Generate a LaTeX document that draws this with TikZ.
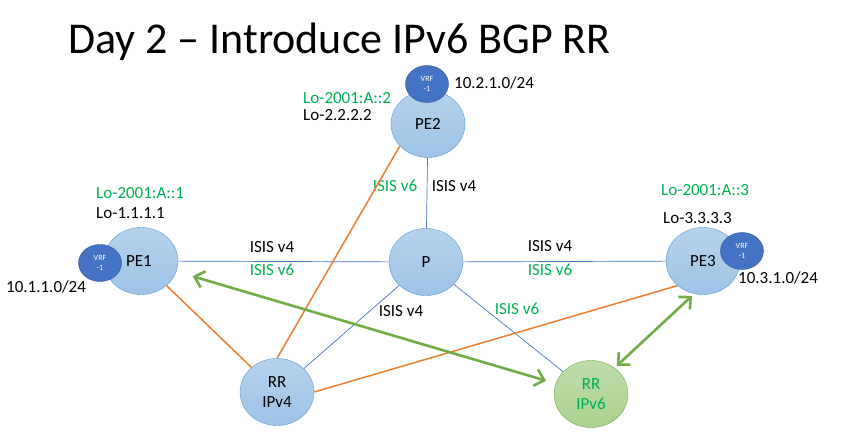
\documentclass[tikz,border=0pt]{standalone}
\usepackage{fontspec}
\setmainfont{Carlito}
\usetikzlibrary{shapes.geometric, arrows.meta}
\definecolor{nodeblue}{HTML}{9DC3E6}
\definecolor{nodeline}{HTML}{5B9BD5}
\definecolor{vrfblue}{HTML}{4472C4}
\definecolor{vrfline}{HTML}{2F528F}
\definecolor{rrgreen}{HTML}{A9D18E}
\definecolor{rrline}{HTML}{70AD47}
\definecolor{txtgreen}{HTML}{00B050}
\definecolor{ibgporange}{HTML}{ED7D31}
\tikzset{pe/.style  = {ellipse, minimum width=74pt, minimum height=67pt, inner sep=0pt, align=center,
                       draw=nodeline, top color=nodeblue!75!white, bottom color=nodeblue, font=\fontsize{17}{20}\selectfont},
         rr/.style  = {pe, draw=rrline, top color=rrgreen!75!white, bottom color=rrgreen, text=txtgreen},
         vrf/.style = {ellipse, minimum width=43pt, minimum height=37pt, inner sep=0pt, align=center,
                       draw=vrfline, fill=vrfblue, text=white, font=\fontsize{8}{10}\selectfont},
         lb/.style  = {inner sep=0pt, font=\fontsize{17}{20}\selectfont},
         gn/.style  = {lb, text=txtgreen},
         hd/.style  = {inner sep=0pt, font=\fontsize{44}{50}\selectfont},
         isis/.style = {draw=vrfblue, line width=0.7pt},
         ib/.style   = {draw=ibgporange, line width=1.5pt},
         sess/.style = {draw=rrline, line width=2.6pt}}
\begin{document}
\begin{tikzpicture}[x=1pt, y=-1pt, >={Straight Barb[length=9pt, width=17pt]}]
    \useasboundingbox (0,0) rectangle (841,439);
    \node[hd, anchor=base west] (ttl) at (68,53) {Day 2 -- Introduce IPv6 BGP RR};
    % routers
    \node[pe] (pe1) at (141,261) {\hspace*{-4pt}PE1};
    \node[pe] (pe2) at (428,124) {PE2};
    \node[pe] (pe3) at (703,261) {PE3};
    \node[pe] (p)   at (426,262) {P};
    \node[pe] (rr4) at (277,392) {RR\\IPv4};
    \node[rr] (rr6) at (591,394) {RR\\IPv6};
    \node[vrf] (vrf1) at (100,263) {VRF\\-1};
    \node[vrf] (vrf2) at (427,84)  {VRF\\-1};
    \node[vrf] (vrf3) at (742,251) {VRF\\-1};
    % loopbacks and prefixes
    \node[gn, anchor=west] (lo61) at (96,193)  {Lo-2001:A::1};
    \node[lb, anchor=west] (lo41) at (96,213)  {Lo-1.1.1.1};
    \node[gn, anchor=west] (lo62) at (303,98)  {Lo-2001:A::2};
    \node[lb, anchor=west] (lo42) at (303,115) {Lo-2.2.2.2};
    \node[gn, anchor=west] (lo63) at (661,190) {Lo-2001:A::3};
    \node[lb, anchor=west] (lo43) at (663,218) {Lo-3.3.3.3};
    \node[lb, anchor=west] (net1) at (6,287)   {10.1.1.0/24};
    \node[lb, anchor=west] (net2) at (454,83)  {10.2.1.0/24};
    \node[lb, anchor=west] (net3) at (738,278) {10.3.1.0/24};
    % igp links
    \draw[isis] (pe1) -- (p);
    \draw[isis] (p) -- (pe3);
    \draw[isis] (pe2) -- (p);
    \draw[isis] (p) -- (rr4);
    \draw[isis] (p) -- (rr6);
    \node[lb] (l1) at (272,247) {ISIS v4};
    \node[gn] (l2) at (272,270) {ISIS v6};
    \node[lb] (l3) at (550,246) {ISIS v4};
    \node[gn] (l4) at (550,270) {ISIS v6};
    \node[gn] (l5) at (395,186) {ISIS v6};
    \node[lb] (l6) at (454,186) {ISIS v4};
    \node[lb] (l7) at (401,311) {ISIS v4};
    \node[gn] (l8) at (517,309) {ISIS v6};
    % ipv4 bgp sessions
    \draw[ib] (pe1) -- (rr4);
    \draw[ib] (pe2.218) -- (rr4.north);
    \draw[ib] (rr4.east) -- (pe3.224);
    % ipv6 bgp sessions
    \draw[sess, <->, shorten <=17pt, shorten >=10pt] (pe1) -- (rr6);
    \draw[sess, <->, shorten <=3pt, shorten >=3pt] (pe3.-105) -- (rr6.48);
\end{tikzpicture}
\end{document}
